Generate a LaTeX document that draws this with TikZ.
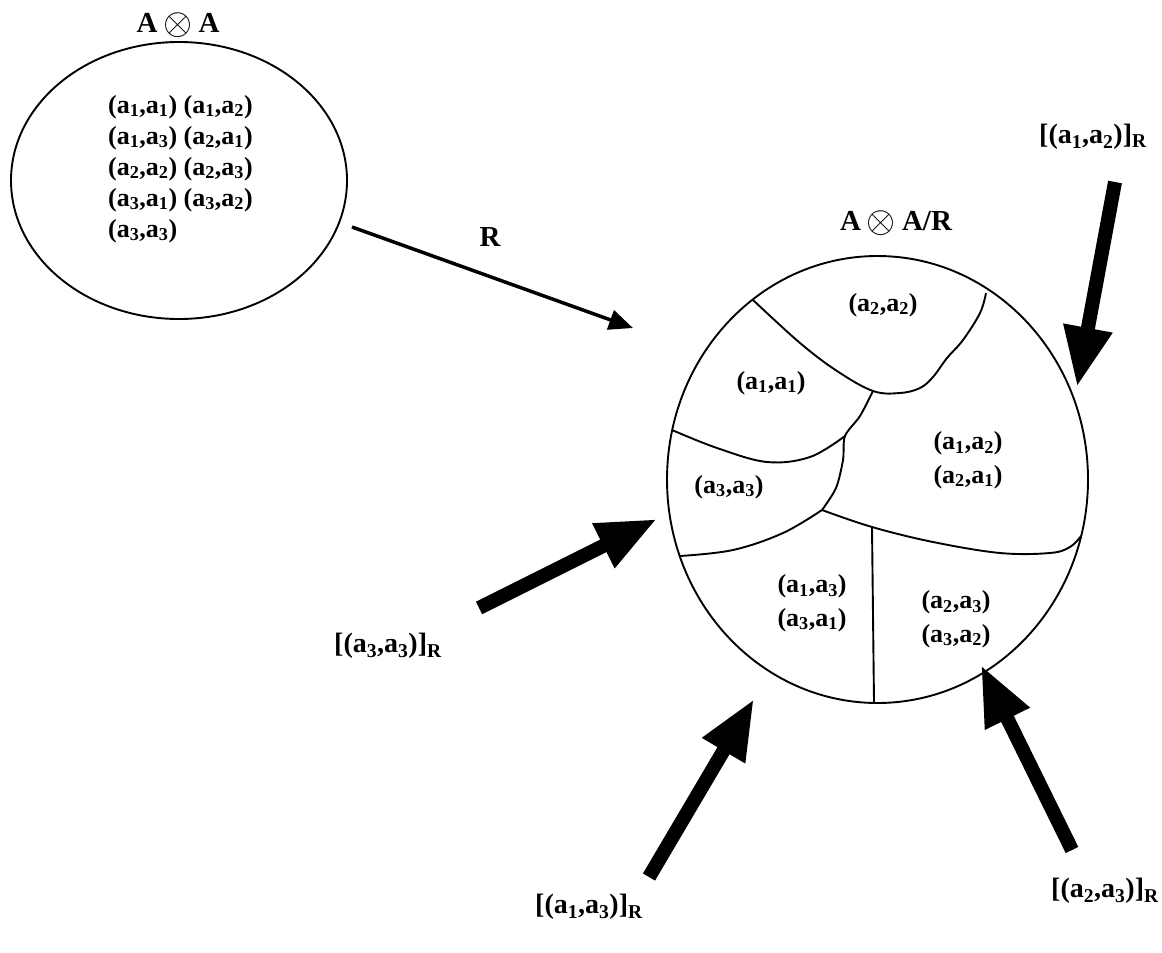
\documentclass[tikz,border=0pt]{standalone}
\usepackage{fontspec}
\usepackage{graphicx}
\setmainfont{Liberation Serif}
\usetikzlibrary{arrows.meta,shapes.geometric}
\newcommand{\sbx}[1]{\textsubscript{#1}}
\newcommand{\otm}{\hspace{6pt}\raisebox{-1.5pt}{\scalebox{1.5}{$\otimes$}}\hspace{6pt}}
\begin{document}
\begin{tikzpicture}[x=1pt,y=-1pt,
  lbl/.style={font=\fontsize{26}{31}\selectfont\bfseries, inner sep=0pt},
  clslbl/.style={font=\fontsize{28}{31}\selectfont\bfseries, inner sep=0pt},
  ttl/.style={font=\fontsize{29}{31}\selectfont\bfseries, inner sep=0pt},
  twoline/.style={lbl, align=center, font=\fontsize{26}{33.5}\selectfont\bfseries},
  bigarrow/.style={line width=14pt, -{Triangle[length=60pt,width=46pt]}},
  part/.style={line width=1.9pt},
  setshape/.style={ellipse, draw, line width=1.9pt, inner sep=0pt},
]
\useasboundingbox[fill=white] (0,0) rectangle (1162,953);

% left set
\node[setshape, minimum width=336pt, minimum height=277pt] (L) at (179,180.5) {};
\node[ttl] (Ltitle) at (178,25) {A\otm A};
\node[lbl, anchor=west, align=left] (Ltext) at (108,169) {(a\sbx1,a\sbx1) (a\sbx1,a\sbx2)\\(a\sbx1,a\sbx3) (a\sbx2,a\sbx1)\\(a\sbx2,a\sbx2) (a\sbx2,a\sbx3)\\(a\sbx3,a\sbx1) (a\sbx3,a\sbx2)\\(a\sbx3,a\sbx3)};

% mapping arrow
\coordinate (r0) at (352,227);
\coordinate (r1) at (633,328);
\draw[line width=3.5pt, -{Triangle[length=24pt,width=20pt]}] (r0) -- (r1);
\node[ttl] (Rlbl) at (490,237) {R};

% quotient set
\node[setshape, minimum width=421pt, minimum height=447pt] (Q) at (877.5,479.5) {};
\node[ttl] (Qtitle) at (896,223) {A\otm A/R};

\coordinate (j1) at (873,391);
\coordinate (j2) at (845,436);
\coordinate (j3) at (822,510);
\coordinate (j4) at (872,527);

\draw[part] plot[smooth, tension=0.6] coordinates {(753,300) (800,343) (837,371) (j1) (900,393) (920,388) (933,377) (947,358) (963,340) (980,313) (986,293)};
\draw[part] plot[smooth, tension=0.5] coordinates {(j1) (860,416) (j2) (843,460) (836,488) (j3)};
\draw[part] plot[smooth, tension=0.6] coordinates {(672,430) (717,448) (767,462) (810,457) (j2)};
\draw[part] plot[smooth, tension=0.6] coordinates {(j3) (j4) (933,542) (1000,553) (1050,553) (1070,547) (1081,536)};
\draw[part] plot[smooth, tension=0.6] coordinates {(j3) (783,533) (733,550) (680,556)};
\coordinate (fb) at (874,702);
\draw[part] (j4) -- (fb);

\node[lbl] (c22) at (883,305) {(a\sbx2,a\sbx2)};
\node[lbl] (c11) at (771,383) {(a\sbx1,a\sbx1)};
\node[twoline] (c12) at (968,460) {(a\sbx1,a\sbx2)\\(a\sbx2,a\sbx1)};
\node[lbl] (c33) at (729,487) {(a\sbx3,a\sbx3)};
\node[twoline] (c13) at (812,603) {(a\sbx1,a\sbx3)\\(a\sbx3,a\sbx1)};
\node[twoline] (c23) at (956,619) {(a\sbx2,a\sbx3)\\(a\sbx3,a\sbx2)};

% class arrows
\coordinate (t12) at (1115,182); \coordinate (h12) at (1077,387);
\coordinate (t33) at (479,608);  \coordinate (h33) at (657,519);
\coordinate (t13) at (649,877);  \coordinate (h13) at (754,699);
\coordinate (t23) at (1072,850); \coordinate (h23) at (981,665);
\draw[bigarrow] (t12) -- (h12);
\draw[bigarrow] (t33) -- (h33);
\draw[bigarrow] (t13) -- (h13);
\draw[bigarrow] (t23) -- (h23);

\node[clslbl] (l12) at (1093,137) {[(a\sbx1,a\sbx2)]\sbx{R}};
\node[clslbl] (l33) at (388,646) {[(a\sbx3,a\sbx3)]\sbx{R}};
\node[clslbl] (l13) at (589,907) {[(a\sbx1,a\sbx3)]\sbx{R}};
\node[clslbl] (l23) at (1105,891) {[(a\sbx2,a\sbx3)]\sbx{R}};
\end{tikzpicture}
\end{document}
